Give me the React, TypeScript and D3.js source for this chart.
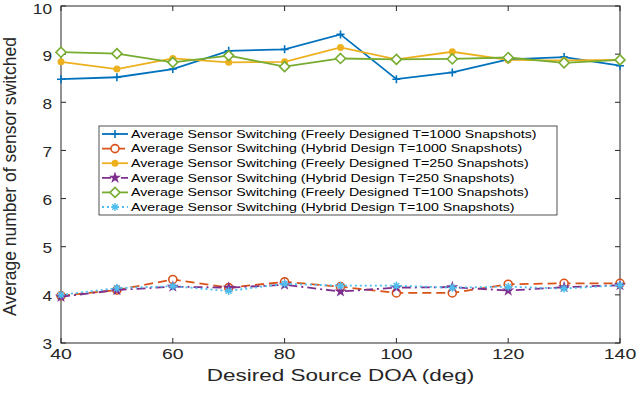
import { useEffect, useRef } from 'react';
import * as d3 from 'd3';

// desired source DOA (deg)
const doa = [40, 50, 60, 70, 80, 90, 100, 110, 120, 130, 140];

const freeT1000 = [8.48, 8.52, 8.69, 9.07, 9.1, 9.41, 8.48, 8.62, 8.89, 8.94, 8.76];
const hybT1000 = [3.98, 4.1, 4.32, 4.15, 4.27, 4.17, 4.04, 4.04, 4.22, 4.24, 4.24];
const freeT250 = [8.84, 8.69, 8.91, 8.83, 8.84, 9.14, 8.89, 9.05, 8.88, 8.87, 8.88];
const hybT250 = [3.96, 4.1, 4.17, 4.15, 4.21, 4.07, 4.15, 4.16, 4.09, 4.16, 4.2];
const freeT100 = [9.04, 9.01, 8.83, 8.97, 8.74, 8.91, 8.89, 8.9, 8.93, 8.82, 8.88];
const hybT100 = [4.0, 4.14, 4.18, 4.08, 4.23, 4.19, 4.19, 4.15, 4.17, 4.13, 4.2];

const xTicks = [40, 60, 80, 100, 120, 140];
const yTicks = [3, 4, 5, 6, 7, 8, 9, 10];

const series = [
  { name: 'Average Sensor Switching (Freely Designed T=1000 Snapshots)', values: freeT1000, color: '#0072BD', dash: null, marker: 'plus' },
  { name: 'Average Sensor Switching (Hybrid Design T=1000 Snapshots)', values: hybT1000, color: '#D95319', dash: '9,5', marker: 'circle' },
  { name: 'Average Sensor Switching (Freely Designed T=250 Snapshots)', values: freeT250, color: '#EDB120', dash: null, marker: 'dot' },
  { name: 'Average Sensor Switching (Hybrid Design T=250 Snapshots)', values: hybT250, color: '#7E2F8E', dash: '9,4,2,4', marker: 'star' },
  { name: 'Average Sensor Switching (Freely Designed T=100 Snapshots)', values: freeT100, color: '#77AC30', dash: null, marker: 'diamond' },
  { name: 'Average Sensor Switching (Hybrid Design T=100 Snapshots)', values: hybT100, color: '#4DBEEE', dash: '2,3', marker: 'asterisk' },
];

function drawMarker(g: any, type: string, x: number, y: number, color: string) {
  const s = 4;
  if (type === 'plus') {
    g.append('path').attr('d', `M${x - s},${y}H${x + s}M${x},${y - s}V${y + s}`)
      .attr('stroke', color).attr('stroke-width', 1.6).attr('fill', 'none');
  } else if (type === 'circle') {
    g.append('circle').attr('cx', x).attr('cy', y).attr('r', 4)
      .attr('stroke', color).attr('stroke-width', 1.6).attr('fill', 'white');
  } else if (type === 'dot') {
    g.append('circle').attr('cx', x).attr('cy', y).attr('r', 3.5).attr('fill', color);
  } else if (type === 'star') {
    g.append('path').attr('d', d3.symbol(d3.symbolStar, 45)())
      .attr('transform', `translate(${x},${y})`).attr('fill', color);
  } else if (type === 'diamond') {
    g.append('path').attr('d', `M${x},${y - 5}L${x + 5},${y}L${x},${y + 5}L${x - 5},${y}Z`)
      .attr('stroke', color).attr('stroke-width', 1.6).attr('fill', 'white');
  } else if (type === 'asterisk') {
    const a = s * 0.7;
    g.append('path')
      .attr('d', `M${x - s},${y}H${x + s}M${x},${y - s}V${y + s}M${x - a},${y - a}L${x + a},${y + a}M${x - a},${y + a}L${x + a},${y - a}`)
      .attr('stroke', color).attr('stroke-width', 1.4).attr('fill', 'none');
  }
}

export default function App() {
  const svgRef = useRef<SVGSVGElement>(null);

  useEffect(() => {
    if (!svgRef.current) return;
    const svg = d3.select(svgRef.current);
    svg.selectAll('*').remove();

    const W = 637, H = 394;
    const margin = { top: 6, right: 17, bottom: 51, left: 61 };
    const width = W - margin.left - margin.right;
    const height = H - margin.top - margin.bottom;

    svg.append('rect').attr('width', W).attr('height', H).attr('fill', 'white');

    const g = svg.append('g').attr('transform', `translate(${margin.left},${margin.top})`);

    const x = d3.scaleLinear().domain([40, 140]).range([0, width]);
    const y = d3.scaleLinear().domain([3, 10]).range([height, 0]);

    const font = 'Liberation Sans, Arial, Helvetica, sans-serif';
    const axisColor = '#262626';
    const tick = 5;

    // frame
    g.append('rect').attr('width', width).attr('height', height)
      .attr('fill', 'none').attr('stroke', axisColor).attr('stroke-width', 1);

    // ticks (inward, on all four sides)
    xTicks.forEach(t => {
      g.append('line').attr('x1', x(t)).attr('x2', x(t)).attr('y1', height).attr('y2', height - tick).attr('stroke', axisColor);
      g.append('line').attr('x1', x(t)).attr('x2', x(t)).attr('y1', 0).attr('y2', tick).attr('stroke', axisColor);
      g.append('text').attr('transform', `translate(${x(t)},${height + 16}) scale(1.3,1)`)
        .attr('text-anchor', 'middle').style('font-family', font).style('font-size', '15px')
        .attr('fill', axisColor).text(t);
    });
    yTicks.forEach(t => {
      g.append('line').attr('x1', 0).attr('x2', tick).attr('y1', y(t)).attr('y2', y(t)).attr('stroke', axisColor);
      g.append('line').attr('x1', width).attr('x2', width - tick).attr('y1', y(t)).attr('y2', y(t)).attr('stroke', axisColor);
      // keep the top label inside the page
      const ty = Math.max(y(t) + 1, 2.5);
      g.append('text').attr('transform', `translate(-9,${ty}) scale(1.15,1)`).attr('dy', '0.36em')
        .attr('text-anchor', 'end').style('font-family', font).style('font-size', '15px')
        .attr('fill', axisColor).text(t);
    });

    // axis labels
    g.append('text').attr('transform', `translate(${width / 2},${height + 38}) scale(1.38,1)`)
      .attr('text-anchor', 'middle').style('font-family', font).style('font-size', '16.3px')
      .attr('fill', axisColor).text('Desired Source DOA (deg)');
    g.append('text')
      .attr('transform', `translate(${-45},${height / 2 + 2}) rotate(-90)`)
      .attr('text-anchor', 'middle').style('font-family', font).style('font-size', '17.5px')
      .attr('fill', axisColor).text('Average number of sensor switched');

    // lines
    const line = d3.line<number>().x((_, i) => x(doa[i])).y(d => y(d));
    series.forEach(s => {
      g.append('path').datum(s.values).attr('d', line)
        .attr('fill', 'none').attr('stroke', s.color).attr('stroke-width', 1.8)
        .attr('stroke-dasharray', s.dash);
      s.values.forEach((v, i) => drawMarker(g, s.marker, x(doa[i]), y(v), s.color));
    });

    // legend
    const lg = svg.append('g').attr('transform', 'translate(99,126)');
    lg.append('rect').attr('width', 458).attr('height', 89)
      .attr('fill', 'white').attr('stroke', axisColor).attr('stroke-width', 0.8);
    series.forEach((s, i) => {
      const yy = 8 + i * 14.6;
      lg.append('line').attr('x1', 3).attr('x2', 29).attr('y1', yy).attr('y2', yy)
        .attr('stroke', s.color).attr('stroke-width', 1.8).attr('stroke-dasharray', s.dash);
      drawMarker(lg, s.marker, 16, yy, s.color);
      lg.append('text').attr('transform', `translate(32,${yy}) scale(1.35,1)`).attr('dy', '0.36em')
        .style('font-family', font).style('font-size', '10.5px').attr('fill', '#000')
        .text(s.name);
    });
  }, []);

  return (
    <svg ref={svgRef} width={637} height={394}
      style={{ position: 'absolute', left: 0, top: 0, display: 'block' }} />
  );
}
